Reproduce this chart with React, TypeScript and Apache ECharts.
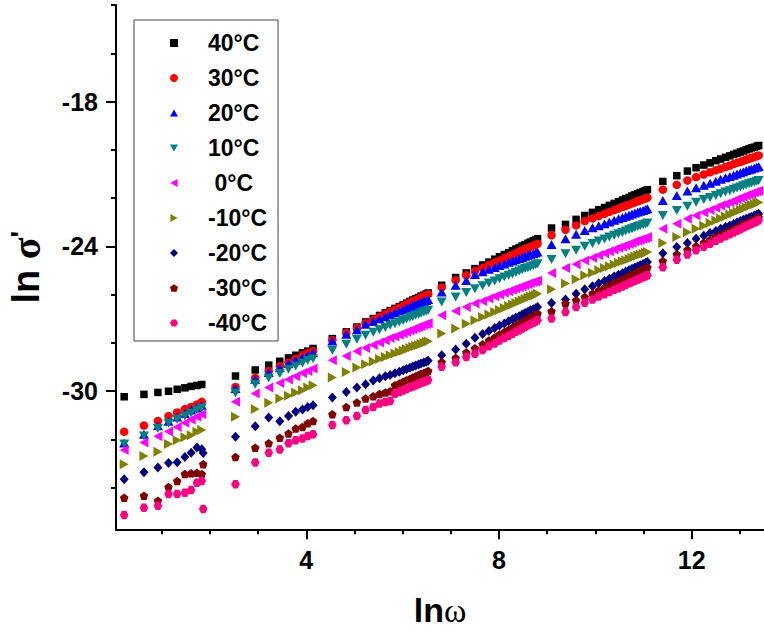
import React, { useEffect, useRef } from 'react';
import * as echarts from 'echarts';

// ln(omega) values of the measured frequencies (shared by every temperature)
const lnOmega = [
  0.22, 0.63, 0.92, 1.14, 1.32, 1.48, 1.61, 1.73, 1.83,
  2.53, 2.94, 3.22, 3.45, 3.63, 3.78, 3.92, 4.03, 4.14,
  4.54, 4.83, 5.05, 5.23, 5.39, 5.52, 5.64, 5.74, 5.84, 5.93, 6.01, 6.08, 6.15, 6.21, 6.27, 6.33, 6.38, 6.44, 6.49, 6.53,
  6.81, 7.10, 7.32, 7.50, 7.66, 7.79, 7.91, 8.01, 8.11, 8.20, 8.28, 8.35, 8.42, 8.48, 8.54, 8.60, 8.65, 8.71, 8.76, 8.80,
  9.09, 9.38, 9.60, 9.78, 9.94, 10.07, 10.19, 10.29, 10.39, 10.48, 10.56, 10.63, 10.70, 10.76, 10.82, 10.88, 10.93, 10.99, 11.04, 11.08,
  11.40, 11.69, 11.91, 12.09, 12.25, 12.38, 12.50, 12.60, 12.70, 12.79, 12.87, 12.94, 13.01, 13.07, 13.13, 13.19, 13.24, 13.30, 13.35, 13.39,
];

const sigma40 = [
  -30.23, -30.13, -30.05, -30.00, -29.92, -29.86, -29.80, -29.76, -29.72,
  -29.37, -29.12, -28.92, -28.76, -28.62, -28.51, -28.41, -28.34, -28.23,
  -27.82, -27.54, -27.34, -27.13, -26.99, -26.86, -26.75, -26.66, -26.57, -26.49, -26.42, -26.35, -26.28, -26.22, -26.17, -26.12, -26.06, -26.02, -25.97, -25.93,
  -25.61, -25.29, -25.10, -24.92, -24.77, -24.65, -24.53, -24.43, -24.34, -24.26, -24.18, -24.11, -24.05, -23.98, -23.93, -23.87, -23.82, -23.77, -23.73, -23.68,
  -23.24, -23.09, -22.88, -22.72, -22.59, -22.48, -22.39, -22.30, -22.22, -22.15, -22.08, -22.02, -21.97, -21.91, -21.86, -21.82, -21.77, -21.73, -21.69, -21.65,
  -21.31, -21.07, -20.88, -20.74, -20.63, -20.54, -20.45, -20.38, -20.31, -20.25, -20.19, -20.14, -20.09, -20.05, -20.00, -19.96, -19.92, -19.89, -19.85, -19.82,
];
const sigma30 = [
  -31.68, -31.42, -31.23, -31.03, -30.88, -30.74, -30.65, -30.55, -30.44,
  -29.82, -29.45, -29.16, -28.96, -28.81, -28.65, -28.51, -28.41, -28.33,
  -27.88, -27.58, -27.38, -27.18, -27.04, -26.91, -26.80, -26.71, -26.62, -26.54, -26.47, -26.40, -26.33, -26.27, -26.22, -26.17, -26.11, -26.07, -26.02, -25.98,
  -25.70, -25.40, -25.20, -25.02, -24.89, -24.77, -24.67, -24.58, -24.49, -24.42, -24.35, -24.28, -24.22, -24.17, -24.11, -24.06, -24.02, -23.97, -23.93, -23.89,
  -23.54, -23.31, -23.13, -22.95, -22.84, -22.74, -22.65, -22.57, -22.50, -22.43, -22.37, -22.32, -22.27, -22.22, -22.17, -22.13, -22.09, -22.05, -22.02, -21.98,
  -21.65, -21.45, -21.27, -21.13, -21.02, -20.93, -20.85, -20.78, -20.71, -20.65, -20.59, -20.54, -20.50, -20.45, -20.41, -20.37, -20.33, -20.30, -20.26, -20.23,
];
const sigma20 = [
  -32.14, -31.78, -31.43, -31.24, -31.07, -30.92, -30.78, -30.69, -30.58,
  -29.89, -29.50, -29.22, -29.03, -28.85, -28.72, -28.60, -28.51, -28.41,
  -27.92, -27.64, -27.45, -27.23, -27.11, -27.00, -26.91, -26.82, -26.75, -26.68, -26.62, -26.56, -26.50, -26.45, -26.40, -26.36, -26.32, -26.27, -26.24, -26.20,
  -25.89, -25.61, -25.41, -25.16, -25.05, -24.95, -24.87, -24.79, -24.73, -24.66, -24.61, -24.55, -24.50, -24.46, -24.41, -24.37, -24.33, -24.30, -24.26, -24.23,
  -23.92, -23.68, -23.50, -23.34, -23.23, -23.14, -23.06, -22.99, -22.92, -22.86, -22.80, -22.75, -22.71, -22.66, -22.62, -22.58, -22.54, -22.51, -22.47, -22.44,
  -22.10, -21.89, -21.71, -21.57, -21.47, -21.38, -21.30, -21.22, -21.16, -21.10, -21.05, -21.00, -20.95, -20.91, -20.86, -20.83, -20.79, -20.75, -20.72, -20.69,
];
const sigma10 = [
  -32.19, -31.86, -31.54, -31.33, -31.17, -31.03, -30.90, -30.78, -30.69,
  -30.07, -29.71, -29.45, -29.27, -29.09, -28.95, -28.83, -28.72, -28.65,
  -28.30, -28.05, -27.85, -27.68, -27.56, -27.45, -27.36, -27.27, -27.20, -27.13, -27.07, -27.01, -26.95, -26.90, -26.85, -26.81, -26.77, -26.72, -26.69, -26.65,
  -26.30, -26.10, -25.91, -25.75, -25.63, -25.52, -25.43, -25.34, -25.27, -25.20, -25.14, -25.08, -25.02, -24.97, -24.92, -24.88, -24.84, -24.80, -24.76, -24.72,
  -24.54, -24.30, -24.16, -23.99, -23.88, -23.78, -23.69, -23.61, -23.54, -23.48, -23.42, -23.36, -23.31, -23.27, -23.22, -23.18, -23.14, -23.10, -23.07, -23.03,
  -22.72, -22.51, -22.34, -22.17, -22.06, -21.97, -21.89, -21.82, -21.75, -21.69, -21.63, -21.58, -21.54, -21.49, -21.45, -21.41, -21.37, -21.34, -21.30, -21.27,
];
const sigma0 = [
  -32.44, -32.12, -31.87, -31.67, -31.48, -31.31, -31.17, -31.06, -30.95,
  -30.44, -30.09, -29.85, -29.66, -29.51, -29.38, -29.24, -29.16, -29.06,
  -28.72, -28.54, -28.34, -28.21, -28.09, -27.98, -27.89, -27.80, -27.73, -27.66, -27.60, -27.54, -27.48, -27.43, -27.38, -27.34, -27.30, -27.25, -27.22, -27.18,
  -26.85, -26.68, -26.51, -26.37, -26.26, -26.16, -26.07, -25.99, -25.92, -25.86, -25.80, -25.74, -25.69, -25.65, -25.60, -25.56, -25.52, -25.48, -25.45, -25.41,
  -25.10, -24.90, -24.74, -24.58, -24.47, -24.37, -24.28, -24.20, -24.13, -24.06, -24.00, -23.95, -23.90, -23.85, -23.80, -23.76, -23.72, -23.68, -23.65, -23.61,
  -23.27, -23.06, -22.85, -22.72, -22.60, -22.49, -22.40, -22.31, -22.24, -22.17, -22.11, -22.05, -21.99, -21.94, -21.89, -21.85, -21.81, -21.76, -21.73, -21.69,
];
const sigmaM10 = [
  -33.03, -32.68, -32.51, -32.19, -32.03, -31.91, -31.82, -31.68, -31.61,
  -31.06, -30.74, -30.48, -30.30, -30.19, -30.05, -29.96, -29.85, -29.75,
  -29.43, -29.20, -29.02, -28.88, -28.77, -28.67, -28.58, -28.51, -28.44, -28.37, -28.32, -28.26, -28.21, -28.16, -28.12, -28.08, -28.04, -28.00, -27.96, -27.93,
  -27.61, -27.40, -27.20, -27.06, -26.93, -26.82, -26.72, -26.63, -26.55, -26.47, -26.41, -26.34, -26.28, -26.23, -26.18, -26.13, -26.08, -26.04, -26.00, -25.96,
  -25.78, -25.54, -25.36, -25.20, -25.09, -24.99, -24.90, -24.82, -24.75, -24.68, -24.62, -24.57, -24.52, -24.47, -24.42, -24.38, -24.34, -24.30, -24.27, -24.23,
  -23.86, -23.61, -23.41, -23.27, -23.14, -23.03, -22.93, -22.84, -22.76, -22.68, -22.62, -22.55, -22.49, -22.44, -22.39, -22.34, -22.29, -22.25, -22.21, -22.17,
];
const sigmaM20 = [
  -33.65, -33.36, -33.16, -32.97, -32.94, -32.73, -32.55, -32.33, -32.40,
  -31.89, -31.45, -31.09, -31.24, -31.03, -30.85, -30.76, -30.65, -30.58,
  -30.26, -30.03, -29.85, -29.71, -29.56, -29.46, -29.38, -29.33, -29.26, -29.19, -29.13, -29.08, -29.03, -28.98, -28.93, -28.89, -28.85, -28.81, -28.78, -28.74,
  -28.51, -28.27, -28.03, -27.78, -27.63, -27.50, -27.38, -27.28, -27.19, -27.10, -27.02, -26.95, -26.89, -26.82, -26.76, -26.71, -26.65, -26.60, -26.56, -26.51,
  -26.34, -26.20, -25.96, -25.78, -25.65, -25.53, -25.43, -25.34, -25.25, -25.18, -25.11, -25.04, -24.98, -24.93, -24.87, -24.82, -24.78, -24.73, -24.69, -24.65,
  -24.28, -24.03, -23.86, -23.68, -23.56, -23.45, -23.36, -23.27, -23.20, -23.13, -23.07, -23.01, -22.95, -22.90, -22.85, -22.81, -22.77, -22.72, -22.69, -22.65,
];
const sigmaM30 = [
  -34.41, -34.33, -34.54, -33.97, -33.72, -33.43, -33.40, -33.38, -33.43,
  -32.72, -32.34, -32.16, -31.93, -31.75, -31.54, -31.48, -31.33, -31.23,
  -30.95, -30.65, -30.47, -30.30, -30.21, -30.12, -30.05, -30.00, -29.75, -29.68, -29.61, -29.55, -29.49, -29.43, -29.38, -29.33, -29.28, -29.24, -29.20, -29.16,
  -28.79, -28.62, -28.40, -28.22, -28.05, -27.90, -27.77, -27.65, -27.55, -27.45, -27.36, -27.28, -27.21, -27.13, -27.07, -27.00, -26.94, -26.89, -26.83, -26.78,
  -26.69, -26.37, -26.23, -26.10, -25.95, -25.83, -25.71, -25.61, -25.52, -25.44, -25.36, -25.29, -25.23, -25.16, -25.11, -25.05, -25.00, -24.95, -24.91, -24.86,
  -24.61, -24.33, -24.14, -23.99, -23.85, -23.72, -23.61, -23.52, -23.43, -23.35, -23.28, -23.21, -23.14, -23.08, -23.03, -22.98, -22.92, -22.88, -22.83, -22.79,
];
const sigmaM40 = [
  -35.13, -34.83, -34.74, -34.26, -34.26, -34.21, -34.09, -33.79, -33.72,
  -33.85, -32.95, -32.55, -32.41, -32.16, -32.03, -31.96, -31.86, -31.78,
  -31.40, -31.20, -31.03, -30.78, -30.65, -30.51, -30.45, -30.40, -30.10, -30.03, -29.97, -29.91, -29.85, -29.80, -29.75, -29.70, -29.66, -29.62, -29.58, -29.54,
  -28.99, -28.80, -28.58, -28.45, -28.29, -28.14, -28.02, -27.90, -27.80, -27.71, -27.62, -27.54, -27.47, -27.40, -27.34, -27.27, -27.22, -27.16, -27.11, -27.06,
  -26.99, -26.72, -26.51, -26.33, -26.20, -26.08, -25.98, -25.89, -25.80, -25.73, -25.66, -25.59, -25.53, -25.48, -25.42, -25.37, -25.33, -25.28, -25.24, -25.20,
  -24.86, -24.55, -24.34, -24.16, -24.01, -23.89, -23.77, -23.67, -23.58, -23.50, -23.42, -23.35, -23.29, -23.22, -23.17, -23.11, -23.06, -23.01, -22.97, -22.92,
];

// extra repeated readings at the end of the first frequency block
const extraM20 = [[1.86, -32.56]];
const extraM30 = [[1.86, -33.03]];
const extraM40 = [[1.86, -34.88]];

const seriesNames = ['40°C', '30°C', '20°C', '10°C', '0°C', '-10°C', '-20°C', '-30°C', '-40°C'];
const seriesColors = ['#000000', '#FF0000', '#0000FF', '#008080', '#FF00FF', '#808000', '#000080', '#800000', '#FF0080'];
const seriesValues = [sigma40, sigma30, sigma20, sigma10, sigma0, sigmaM10, sigmaM20, sigmaM30, sigmaM40];
const seriesExtras = [[], [], [], [], [], [], extraM20, extraM30, extraM40];

const TRI_UP = 'path://M0,-10L10,8L-10,8Z';
const TRI_DOWN = 'path://M-10,-8L10,-8L0,10Z';
const TRI_LEFT = 'path://M-10,0L8,-10L8,10Z';
const TRI_RIGHT = 'path://M10,0L-8,-10L-8,10Z';
const PENTAGON = 'path://M0,-10L9.51,-3.09L5.88,8.09L-5.88,8.09L-9.51,-3.09Z';
const HEXAGON = 'path://M-5,-8.66L5,-8.66L10,0L5,8.66L-5,8.66L-10,0Z';
const seriesSymbols = ['rect', 'circle', TRI_UP, TRI_DOWN, TRI_LEFT, TRI_RIGHT, 'diamond', PENTAGON, HEXAGON];
const seriesSizes = [7.5, 8.5, [10, 9], [10, 9], [9, 10], [9, 10], [9, 10], 8.5, 8.5];

const xMajorTicks = [4, 8, 12];
const xMinorTicks = [1, 2, 3, 5, 6, 7, 9, 10, 11, 13];
const yMajorTicks = [-30, -24, -18];
const yMinorTicks = [-34, -32, -28, -26, -22, -20, -16, -14];

const X_MIN = 0.05;
const X_MAX = 13.5;
const Y_MIN = -35.72;
const Y_MAX = -14;

export default function App() {
  const ref = useRef<HTMLDivElement>(null);

  useEffect(() => {
    if (!ref.current) return;
    const chart = echarts.init(ref.current, undefined, { renderer: 'svg' });

    const axisLineStyle = { color: '#000', width: 2 };
    const tickLabelStyle = {
      fontSize: 25,
      fontWeight: 'bold' as const,
      fontFamily: 'Arial, "Liberation Sans", sans-serif',
      color: '#000',
    };

    const series = seriesNames.map((name, i) => ({
      name,
      type: 'scatter',
      xAxisIndex: 0,
      yAxisIndex: 0,
      symbol: seriesSymbols[i],
      symbolSize: seriesSizes[i],
      symbolKeepAspect: false,
      itemStyle: { color: seriesColors[i], opacity: 1 },
      data: lnOmega.map((x, j) => [x, seriesValues[i][j]]).concat(seriesExtras[i]),
      emphasis: { disabled: true },
    }));

    const option = {
      animation: false,
      backgroundColor: '#ffffff',
      grid: { left: 116, top: 5, width: 648, height: 524.3, containLabel: false, outerBoundsMode: 'none' },
      xAxis: [
        {
          type: 'value',
          min: X_MIN,
          max: X_MAX,
          position: 'bottom',
          axisLine: { show: true, onZero: false, lineStyle: axisLineStyle },
          axisTick: { show: true, customValues: xMajorTicks, length: 10, lineStyle: { color: '#000', width: 2 } },
          axisLabel: { ...tickLabelStyle, customValues: xMajorTicks, margin: 18 },
          splitLine: { show: false },
          name: '{a|ln}{b|ω}',
          nameLocation: 'middle',
          nameGap: 64,
          nameTextStyle: {
            rich: {
              a: { fontSize: 34, fontWeight: 'bold', fontFamily: 'Arial, "Liberation Sans", sans-serif', color: '#000' },
              b: { fontSize: 34, fontFamily: '"Liberation Serif", serif', color: '#000' },
            },
          },
        },
        {
          type: 'value',
          min: X_MIN,
          max: X_MAX,
          position: 'bottom',
          axisLine: { show: false, onZero: false },
          axisTick: { show: true, customValues: xMinorTicks, length: 5, lineStyle: { color: '#000', width: 2 } },
          axisLabel: { show: false },
          splitLine: { show: false },
        },
      ],
      yAxis: [
        {
          type: 'value',
          min: Y_MIN,
          max: Y_MAX,
          position: 'left',
          axisLine: { show: true, onZero: false, lineStyle: axisLineStyle },
          axisTick: { show: true, customValues: yMajorTicks, length: 10, lineStyle: { color: '#000', width: 2 } },
          axisLabel: { ...tickLabelStyle, customValues: yMajorTicks, margin: 18 },
          splitLine: { show: false },
          name: "{a|ln }{b|σ}{c|'}",
          nameLocation: 'middle',
          nameGap: 70,
          nameTextStyle: {
            rich: {
              a: { fontSize: 38, fontWeight: 'bold', fontFamily: 'Arial, "Liberation Sans", sans-serif', color: '#000' },
              b: { fontSize: 40, fontWeight: 'bold', fontFamily: '"Liberation Serif", serif', color: '#000' },
              c: { fontSize: 28, fontWeight: 'bold', fontFamily: 'Arial, "Liberation Sans", sans-serif', color: '#000', verticalAlign: 'top', lineHeight: 20 },
            },
          },
        },
        {
          type: 'value',
          min: Y_MIN,
          max: Y_MAX,
          position: 'left',
          axisLine: { show: false, onZero: false },
          axisTick: { show: true, customValues: yMinorTicks, length: 5, lineStyle: { color: '#000', width: 2 } },
          axisLabel: { show: false },
          splitLine: { show: false },
        },
      ],
      legend: {
        orient: 'vertical',
        left: 134,
        top: 20,
        padding: [11, 11, 6, 36],
        itemGap: 11,
        itemWidth: 8,
        itemHeight: 8,
        borderColor: '#444',
        borderWidth: 1,
        backgroundColor: '#fff',
        selectedMode: false,
        data: seriesNames.map((name, i) => ({
          name,
          icon: seriesSymbols[i],
          itemStyle: { color: seriesColors[i] },
        })),
        formatter: (name: string) => (name === '0°C' ? '\u00a0' + name : name),
        textStyle: {
          padding: [0, 0, 0, 25],
          fontSize: 23,
          fontWeight: 'bold',
          fontFamily: 'Arial, "Liberation Sans", sans-serif',
          color: '#000',
          lineHeight: 24,
        },
      },
      series,
    };

    chart.setOption(option as any);
    return () => chart.dispose();
  }, []);

  return (
    <div
      ref={ref}
      style={{ position: 'fixed', left: 0, top: 0, width: 764, height: 643, background: '#fff' }}
    />
  );
}
